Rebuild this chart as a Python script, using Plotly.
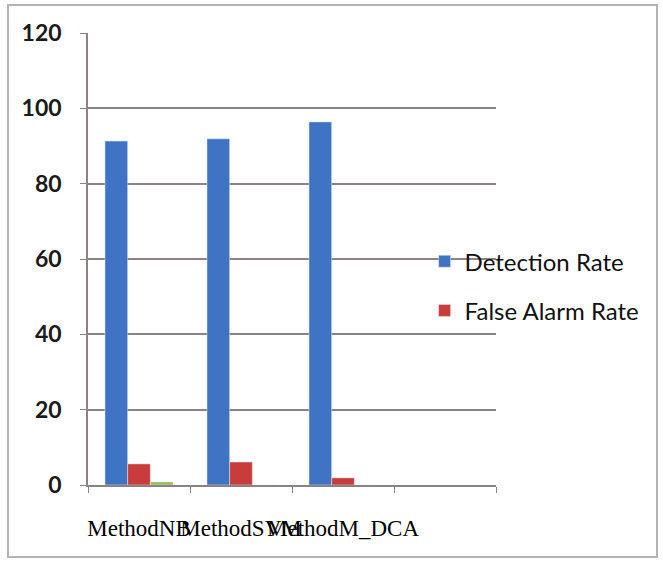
import plotly.graph_objects as go

# Chart data
methods = ["MethodNB", "MethodSVM", "MethodM_DCA"]
slot_count = 4  # the category axis keeps one empty slot at the end
detection_rate = [91.3, 91.9, 96.4]
false_alarm_rate = [5.6, 6.1, 1.9]
third_series = [0.8, 0.0, 0.0]
y_ticks = [0, 20, 40, 60, 80, 100, 120]

x_pos = list(range(len(methods)))
slot_edges = [i - 0.5 for i in range(slot_count + 1)]

BLUE = "#3f74c4"
RED = "#c83c3c"
GREEN = "#8fbf4a"
GRID = "#8c8282"

fig = go.Figure()
fig.add_trace(go.Bar(x=x_pos, y=detection_rate, name="Detection Rate",
                     marker_color=BLUE, legendgroup="a"))
fig.add_trace(go.Bar(x=x_pos, y=false_alarm_rate, name="False Alarm Rate",
                     marker_color=RED, legendgroup="b"))
fig.add_trace(go.Bar(x=x_pos, y=third_series, marker_color=GREEN,
                     showlegend=False))

fig.update_layout(
    width=663, height=566,
    margin=dict(l=88, r=167, t=33, b=81),
    paper_bgcolor="white", plot_bgcolor="white",
    barmode="group", bargap=0.333, bargroupgap=0,
    legend=dict(x=0.825, y=0.44, xanchor="left", yanchor="middle",
                bgcolor="rgba(255,255,255,0)",
                font=dict(family="Lato", size=24, color="#111"),
                traceorder="grouped", tracegroupgap=15,
                itemwidth=30),
    xaxis=dict(
        range=[slot_edges[0], slot_edges[-1]],
        tickvals=x_pos, ticktext=methods, tickangle=0,
        ticks="", showgrid=False, automargin=False,
        showline=True, linecolor=GRID, linewidth=1.5,
        tickfont=dict(family="Liberation Serif", size=23, color="#000"),
        ticklabelstandoff=22,
        minor=dict(tickvals=slot_edges, ticks="outside", ticklen=6,
                   tickcolor=GRID, showgrid=False),
    ),
    yaxis=dict(
        range=[0, 120], tickvals=y_ticks, automargin=False,
        showgrid=True, gridcolor=GRID, gridwidth=1.5,
        showline=True, linecolor=GRID, linewidth=1.5,
        ticks="outside", ticklen=6, tickcolor=GRID,
        ticklabelstandoff=14,
        tickfont=dict(family="Lato", size=23, color="#1a1a1a", weight="bold"),
        zeroline=False,
    ),
    shapes=[dict(type="rect", xref="paper", yref="paper",
                 x0=-80 / 408, x1=569 / 408, y0=-72 / 452, y1=480 / 452,
                 line=dict(color="#b4b4b4", width=2), layer="below")],
)

fig.write_html("out.html")
